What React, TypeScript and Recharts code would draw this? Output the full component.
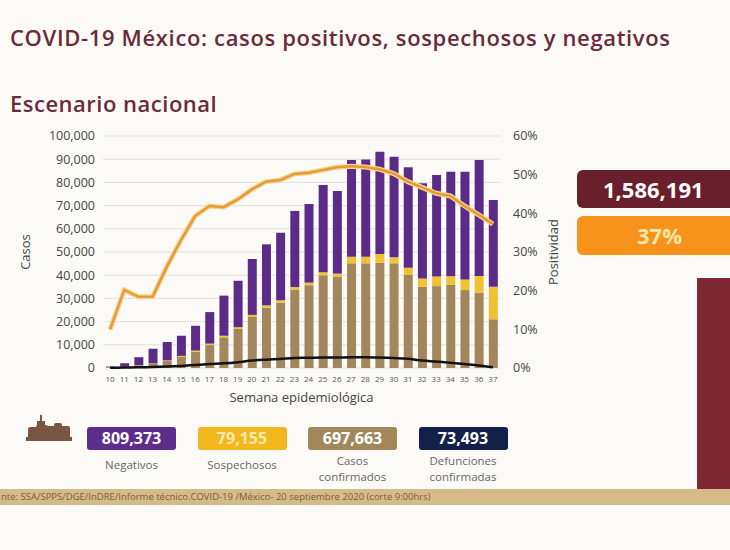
import React from 'react';
import { ComposedChart, Bar, Line, XAxis, YAxis, CartesianGrid } from 'recharts';

const weeks = ['10', '11', '12', '13', '14', '15', '16', '17', '18', '19', '20', '21', '22', '23', '24', '25', '26', '27', '28', '29', '30', '31', '32', '33', '34', '35', '36', '37'];
const confirmados = [300, 600, 1000, 1800, 3000, 4800, 7000, 9900, 13200, 16800, 22000, 26000, 28200, 33800, 35700, 40000, 39400, 45100, 45100, 45400, 45100, 40100, 35000, 35300, 35800, 33600, 32500, 21000];
const sospechosos = [50, 100, 150, 200, 300, 400, 500, 600, 700, 800, 900, 1000, 1000, 1100, 1100, 1300, 1300, 2900, 2900, 3700, 2600, 3100, 3600, 4100, 3700, 4600, 7200, 14000];
const negativos = [250, 1300, 3500, 6300, 7900, 8700, 10700, 13600, 17300, 20000, 24100, 26300, 29100, 32800, 33900, 37600, 35600, 41700, 41900, 44100, 43400, 43300, 41000, 43800, 45100, 46400, 50000, 37400];
const defunciones = [100, 200, 300, 400, 600, 900, 1300, 1700, 2000, 2500, 3200, 3600, 3900, 4300, 4400, 4500, 4500, 4600, 4600, 4500, 4300, 4000, 3200, 2800, 2300, 1700, 1100, 300];
const positividad = [10.0, 20.2, 18.4, 18.4, 26.2, 33.1, 39.3, 41.9, 41.6, 43.6, 46.2, 48.2, 48.6, 50.2, 50.5, 51.2, 51.9, 52.2, 52.0, 51.4, 50.3, 48.2, 46.7, 45.2, 44.5, 41.9, 39.6, 37.2];

const casosTicks = [0, 10000, 20000, 30000, 40000, 50000, 60000, 70000, 80000, 90000, 100000];
const positividadTicks = [0, 10, 20, 30, 40, 50, 60];

const summary = [
  { value: '809,373', label: ['Negativos'], color: '#5E2D8C', text: '#FFFFFF' },
  { value: '79,155', label: ['Sospechosos'], color: '#F2B81E', text: '#FCEBB0' },
  { value: '697,663', label: ['Casos', 'confirmados'], color: '#A3875C', text: '#FFFFFF' },
  { value: '73,493', label: ['Defunciones', 'confirmadas'], color: '#12204A', text: '#FFFFFF' },
];

const data = weeks.map((w, i) => ({
  semana: w,
  confirmados: confirmados[i],
  sospechosos: sospechosos[i],
  negativos: negativos[i],
  defunciones: defunciones[i],
  positividad: positividad[i],
}));

const FONT = '"Open Sans", "Noto Sans", sans-serif';
const MAROON = '#6A2A38';

// vertical axis titles
const sideLabel = (text: string, dxFrac: number) => (props: any) => {
  const { x, y, width, height } = props.viewBox;
  const cx = x + width * dxFrac;
  const cy = y + height / 2;
  return (
    <text x={cx} y={cy} transform={`rotate(-90 ${cx} ${cy})`} textAnchor="middle" dominantBaseline="central" fontSize={13} fill="#444" fontFamily={FONT}>
      {text}
    </text>
  );
};

// small silhouette logo next to the totals
const Emblem = () => (
  <svg width={46} height={30} style={{ position: 'absolute', left: 26, top: 413 }}>
    <g fill="#7A5642">
      <rect x={14} y={2} width={2} height={10} />
      <rect x={11} y={8} width={8} height={6} />
      <rect x={2} y={14} width={10} height={12} rx={2} />
      <rect x={10} y={12} width={12} height={14} rx={2} />
      <rect x={20} y={13} width={10} height={13} rx={2} />
      <rect x={28} y={10} width={8} height={16} rx={2} />
      <rect x={34} y={13} width={10} height={13} rx={2} />
      <rect x={0} y={24} width={46} height={4} />
    </g>
  </svg>
);

const App = () => {
  return (
    <div style={{ position: 'absolute', left: 0, top: 0, width: 730, height: 550, background: '#FCFAF7', overflow: 'hidden', fontFamily: FONT }}>
      <div style={{ position: 'absolute', left: 10, top: 22, fontSize: 22, fontWeight: 600, letterSpacing: 0.65, color: MAROON, whiteSpace: 'nowrap' }}>
        COVID-19 México: casos positivos, sospechosos y negativos
      </div>
      <div style={{ position: 'absolute', left: 10, top: 88, fontSize: 22, fontWeight: 600, letterSpacing: 0.5, color: MAROON }}>
        Escenario nacional
      </div>

      <div style={{ position: 'absolute', left: 0, top: 120 }}>
        <ComposedChart width={664} height={286} data={data} margin={{ top: 16, right: 4, left: 8, bottom: 0 }} barCategoryGap={0}>
          <CartesianGrid vertical={false} stroke="#E2E0DD" yAxisId="casos" />
          <XAxis
            dataKey="semana"
            tickLine={false}
            axisLine={false}
            interval={0}
            tick={{ fontSize: 8, fill: '#555' }}
            height={38}
            label={{ value: 'Semana epidemiológica', position: 'insideBottom', offset: 4, fontSize: 13, fill: '#444' }}
          />
          <YAxis
            yAxisId="casos"
            width={95}
            domain={[0, 100000]}
            ticks={casosTicks}
            tickLine={false}
            axisLine={false}
            tick={{ fontSize: 12.5, fill: '#444' }}
            tickFormatter={(v: number) => v.toLocaleString('en-US')}
            label={{ content: sideLabel('Casos', 0.18) }}
          />
          <YAxis
            yAxisId="pos"
            orientation="right"
            width={160}
            domain={[0, 60]}
            ticks={positividadTicks}
            tickLine={false}
            axisLine={false}
            tickMargin={7}
            tick={{ fontSize: 12.5, fill: '#444', textAnchor: 'start' }}
            tickFormatter={(v: number) => `${v}%`}
            label={{ content: sideLabel('Positividad', 0.33) }}
          />
          <Bar yAxisId="casos" dataKey="confirmados" stackId="a" fill="#A3875C" barSize={9} isAnimationActive={false} />
          <Bar yAxisId="casos" dataKey="sospechosos" stackId="a" fill="#F0C232" barSize={9} isAnimationActive={false} />
          <Bar yAxisId="casos" dataKey="negativos" stackId="a" fill="#5A2C88" barSize={9} isAnimationActive={false} />
          <Line yAxisId="casos" dataKey="defunciones" stroke="#111" strokeWidth={2.5} dot={false} type="monotone" isAnimationActive={false} />
          <Line yAxisId="pos" dataKey="positividad" stroke="#F6D594" strokeWidth={5} dot={false} type="linear" isAnimationActive={false} />
          <Line yAxisId="pos" dataKey="positividad" stroke="#E59A33" strokeWidth={2.5} dot={false} type="linear" isAnimationActive={false} />
        </ComposedChart>
      </div>

      {/* right side totals */}
      <div style={{ position: 'absolute', left: 577, top: 170, width: 170, height: 38, background: '#6A1F2D', borderRadius: 6, color: '#fff', fontSize: 22, fontWeight: 700, lineHeight: '38px', paddingLeft: 26, boxSizing: 'border-box' }}>
        1,586,191
      </div>
      <div style={{ position: 'absolute', left: 577, top: 216, width: 170, height: 39, background: '#F7921A', borderRadius: 6, color: '#FCE6A8', fontSize: 22, fontWeight: 700, lineHeight: '39px', paddingLeft: 60, boxSizing: 'border-box' }}>
        37%
      </div>
      <div style={{ position: 'absolute', left: 697, top: 278, width: 40, height: 212, background: '#7E2631' }} />

      {/* bottom summary */}
      <Emblem />
      {summary.map((s, i) => (
        <div key={s.value} style={{ position: 'absolute', left: 87 + i * 110.5, top: 427, width: 89 }}>
          <div style={{ height: 23, background: s.color, borderRadius: 3, color: s.text, fontSize: 16, fontWeight: 700, textAlign: 'center', lineHeight: '23px' }}>
            {s.value}
          </div>
          <div style={{ marginTop: s.label.length > 1 ? 3 : 7, fontSize: 11.5, color: '#666', textAlign: 'center', lineHeight: '16px' }}>
            {s.label.map((l) => (
              <div key={l}>{l}</div>
            ))}
          </div>
        </div>
      ))}

      <div style={{ position: 'absolute', left: 0, top: 489, width: 730, height: 16, background: '#D6BA88', color: '#7A5E3A', fontSize: 9.5, lineHeight: '16px', whiteSpace: 'nowrap', paddingLeft: 1 }}>
        nte: SSA/SPPS/DGE/InDRE/Informe técnico.COVID-19 /México- 20 septiembre 2020 (corte 9:00hrs)
      </div>
    </div>
  );
};

export default App;
